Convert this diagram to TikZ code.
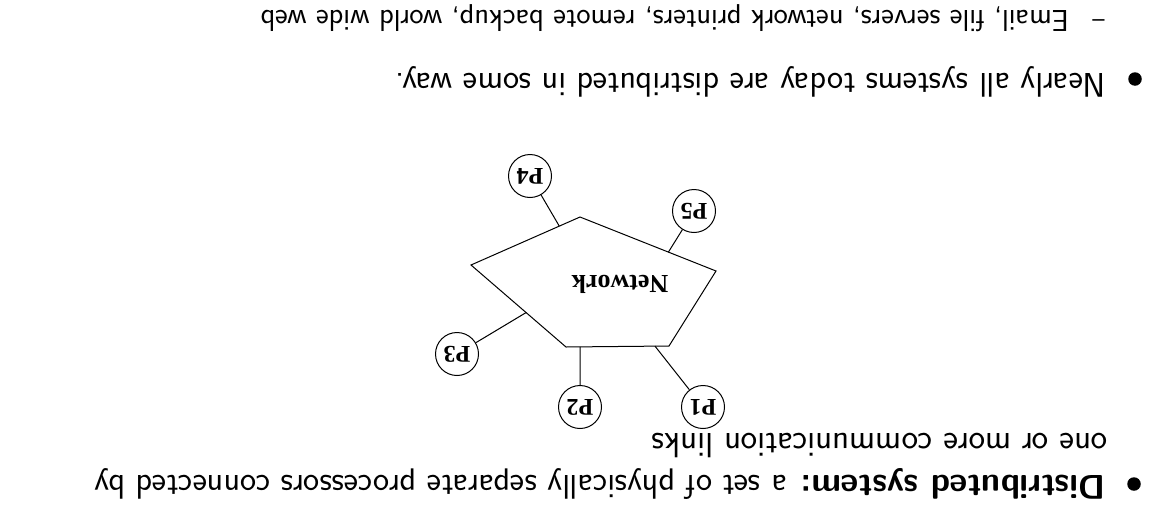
\documentclass[tikz,border=0pt]{standalone}
\usepackage{fontspec}
\setmainfont{Liberation Serif}
\usetikzlibrary{calc}
\begin{document}
\begin{tikzpicture}[x=1pt,y=-1pt,
  txt/.style={rotate=180, anchor=base west, inner sep=0pt, font=\sffamily\fontsize{34.2}{42}\selectfont},
  subtxt/.style={txt, font=\sffamily\fontsize{30.3}{36}\selectfont},
  proc/.style={draw, circle, line width=1pt, minimum size=43pt, inner sep=0pt, rotate=180, font=\bfseries\fontsize{24}{28}\selectfont},
  bul/.style={circle, fill, inner sep=0pt, minimum size=13.5pt},
  link/.style={line width=1pt}]
\useasboundingbox (0,0) rectangle (1151,509);
% text
\node[bul] (b1) at (1135,79) {};
\node[txt] (l1) at (1106,73) {Nearly all systems today are distributed in some way.};
\node[rotate=180, inner sep=0pt, font=\sffamily\fontsize{26}{30}\selectfont] (dash) at (1098.5,17) {--};
\node[subtxt] (l2) at (1069,10) {Email, file servers, network printers, remote backup, world wide web};
\node[bul] (b2) at (1134,484) {};
\node[txt] (l3) at (1106,475) {\textbf{Distributed system:} a set of physically separate processors connected by};
\node[txt, font=\sffamily\fontsize{35}{42}\selectfont] (l4) at (1108,433) {one or more communication links};
% network
\coordinate (v1) at (580,217);
\coordinate (v2) at (471,265);
\coordinate (v3) at (566,347);
\coordinate (v4) at (669,346);
\coordinate (v5) at (716,271);
\draw[link] (v1)--(v2)--(v3)--(v4)--(v5)--cycle;
\node[rotate=180, inner sep=0pt, font=\bfseries\fontsize{26}{28}\selectfont] (net) at (620,284) {Network};
\coordinate (e4) at ($(v1)!0.19!(v2)$);
\coordinate (e5) at ($(v1)!0.65!(v5)$);
\coordinate (e3) at ($(v2)!0.58!(v3)$);
\coordinate (e2) at ($(v3)!0.136!(v4)$);
\coordinate (e1) at ($(v3)!0.864!(v4)$);
\node[proc] (p4) at (530,176) {P4};
\node[proc] (p5) at (694,211) {P5};
\node[proc] (p3) at (457,354) {P3};
\node[proc] (p2) at (580,407) {P2};
\node[proc] (p1) at (703,407) {P1};
\draw[link] (p4) -- (e4);
\draw[link] (p5) -- (e5);
\draw[link] (p3) -- (e3);
\draw[link] (p2) -- (e2);
\draw[link] (p1) -- (e1);
\end{tikzpicture}
\end{document}
